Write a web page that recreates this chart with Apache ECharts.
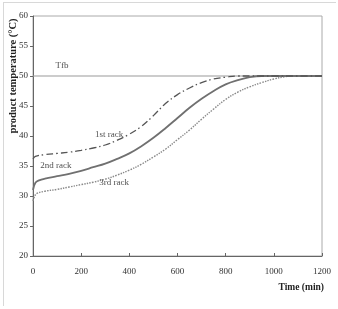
<!DOCTYPE html>
<html><head><meta charset="utf-8">
<script src="https://cdn.jsdelivr.net/npm/echarts@6/dist/echarts.min.js"></script>
<style>html,body{margin:0;padding:0;background:#fff}#c{width:338px;height:309px}</style>
</head><body><div id="c"></div>
<script>
const xTicks = [0,200,400,600,800,1000,1200];
const yTicks = [20,25,30,35,40,45,50,55,60];
const rack1 = [[0,36.2],[10,36.6],[50,36.9],[100,37.1],[150,37.3],[200,37.6],[250,38.0],[300,38.5],[350,39.3],[400,40.3],[450,41.6],[500,43.4],[550,45.4],[600,46.9],[650,48.0],[700,48.9],[750,49.5],[800,49.8],[850,50.0],[900,50.0],[1000,50.0],[1100,50.0],[1200,50.0]];
const rack2 = [[0,31.0],[10,32.2],[25,32.6],[50,32.9],[100,33.3],[150,33.7],[200,34.2],[250,34.8],[300,35.4],[350,36.2],[400,37.1],[450,38.3],[500,39.7],[550,41.3],[600,43.0],[650,44.7],[700,46.2],[750,47.5],[800,48.6],[850,49.3],[900,49.8],[950,50.0],[1000,50.0],[1100,50.0],[1200,50.0]];
const rack3 = [[0,29.2],[5,29.8],[15,30.4],[50,30.8],[100,31.1],[150,31.5],[200,31.9],[250,32.3],[300,32.8],[350,33.5],[400,34.3],[450,35.3],[500,36.5],[550,37.8],[600,39.4],[650,41.0],[700,42.8],[750,44.5],[800,46.1],[850,47.3],[900,48.2],[950,48.9],[1000,49.5],[1050,49.9],[1100,50.0],[1200,50.0]];
const tfb = [[0,50],[1200,50]];
const labels = [[120,51.8,'Tfb'],[316,40.3,'1st rack'],[95,35.0,'2nd rack'],[337,32.3,'3rd rack']];
const yTitle = 'product temperature (°C)';
const xTitle = 'Time (min)';

const chart = echarts.init(document.getElementById('c'), null, {renderer:'canvas'});
const serif = '"Liberation Serif","DejaVu Serif",serif';
chart.setOption({
  animation:false,
  backgroundColor:'#fff',
  grid:{left:33,right:16,top:16,bottom:53,show:true,borderColor:'#aaa',borderWidth:1},
  graphic:[
    {type:'line',shape:{x1:3,y1:2.5,x2:336,y2:2.5},style:{stroke:'#d8d8d8',lineWidth:1}},
    {type:'line',shape:{x1:3.5,y1:2,x2:3.5,y2:306},style:{stroke:'#d8d8d8',lineWidth:1}},
    {type:'text',x:13,y:76,rotation:Math.PI/2,
      style:{text:yTitle,fontFamily:serif,fontWeight:'bold',fontSize:10.5,fill:'#222',align:'center',verticalAlign:'middle'}}
  ],
  xAxis:{type:'value',min:0,max:1200,interval:200,
    name:xTitle,nameLocation:'end',nameGap:0,
    nameTextStyle:{fontFamily:serif,fontWeight:'bold',fontSize:9.5,color:'#222',align:'right',verticalAlign:'top',padding:[27,-2,0,0]},
    axisLine:{lineStyle:{color:'#666',width:1}},
    axisTick:{show:true,inside:true,length:3,lineStyle:{color:'#666'}},
    axisLabel:{fontFamily:serif,fontSize:9,color:'#333',margin:11,formatter:v=>String(v)},
    splitLine:{show:false}},
  yAxis:{type:'value',min:20,max:60,interval:5,
    axisLine:{show:true,lineStyle:{color:'#666',width:1}},
    axisTick:{show:true,length:3,lineStyle:{color:'#666'}},
    axisLabel:{fontFamily:serif,fontSize:9,color:'#333',margin:5},
    splitLine:{show:false}},
  series:[
    {name:'Tfb',type:'line',data:tfb,showSymbol:false,lineStyle:{color:'#999',width:1},z:1},
    {name:'3rd rack',type:'line',data:rack3,smooth:0.4,showSymbol:false,lineStyle:{color:'#8a8a8a',width:1.4,type:[1.5,1.2]},z:2},
    {name:'2nd rack',type:'line',data:rack2,smooth:0.4,showSymbol:false,lineStyle:{color:'#707070',width:1.8},z:3},
    {name:'1st rack',type:'line',data:rack1,smooth:0.4,showSymbol:false,lineStyle:{color:'#555',width:1.3,type:[7,3,1.5,3]},z:4},
    {name:'labels',type:'scatter',symbolSize:0,silent:true,
      data:labels.map(l=>({value:[l[0],l[1]],name:l[2]})),
      label:{show:true,position:'inside',formatter:p=>p.name,fontFamily:serif,fontSize:9,color:'#222'},z:5}
  ]
});
</script></body></html>
